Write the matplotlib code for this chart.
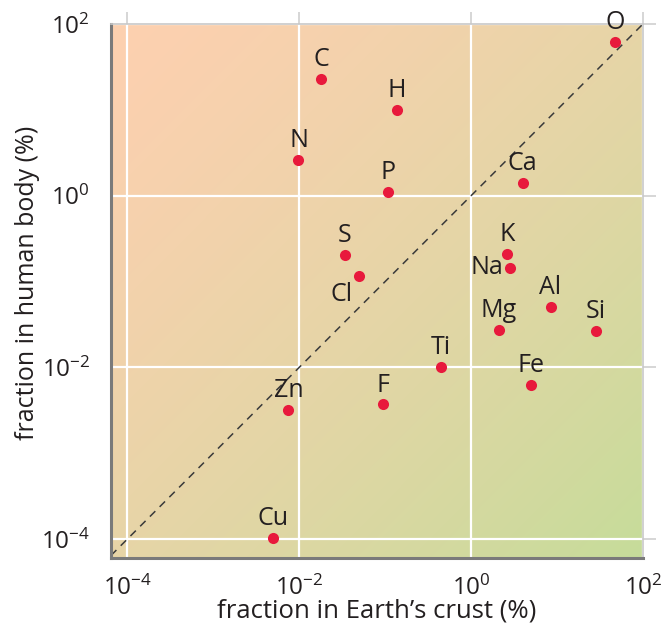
import numpy as np
import matplotlib.pyplot as plt
from matplotlib.colors import to_rgb

plt.rcParams['font.family'] = ['Open Sans', 'DejaVu Sans']
plt.rcParams['mathtext.fontset'] = 'custom'
plt.rcParams['mathtext.rm'] = 'Open Sans'
plt.rcParams['mathtext.it'] = 'Open Sans:italic'
plt.rcParams['mathtext.bf'] = 'Open Sans:bold'

# element, fraction in Earth's crust (%), fraction in human body (%)
elements = ["O", "C", "H", "N", "Ca", "P", "K", "S", "Na", "Cl",
            "Mg", "Al", "Si", "Ti", "Fe", "F", "Zn", "Cu"]
crust = [46.9, 0.018, 0.136, 0.0098, 3.97, 0.108, 2.6, 0.034, 2.85, 0.049,
         2.1, 8.4, 28.1, 0.447, 5.0, 0.094, 0.0075, 0.0050]
body = [61.6, 22.6, 9.9, 2.59, 1.42, 1.1, 0.207, 0.203, 0.144, 0.116,
        0.0273, 0.050, 0.0264, 0.0102, 0.0062, 0.0037, 0.0032, 0.000103]

ticks = [1e-4, 1e-2, 1e0, 1e2]
tick_labels = [r"$10^{-4}$", r"$10^{-2}$", r"$10^{0}$", r"$10^{2}$"]

# label placement: (dx, dy) in points, ha, va
label_pos = {"Na": ((-5, 0), "right", "center"),
             "Cl": ((-4, -4), "right", "top")}

fig = plt.figure(figsize=(6.63, 6.26), dpi=100)
ax = fig.add_axes([0.1674, 0.1086, 0.8024, 0.8531])

xlo, xhi = 10 ** -4.19, 10 ** 2.0
ylo, yhi = 10 ** -4.22, 10 ** 2.0

# diagonal gradient background
c1 = np.array(to_rgb("#fdd0b0"))
c2 = np.array(to_rgb("#c6dc9a"))
u, v = np.meshgrid(np.linspace(0, 1, 200), np.linspace(1, 0, 200))
t = ((u + (1 - v)) / 2) ** 1.3
img = c1[None, None, :] * (1 - t[..., None]) + c2[None, None, :] * t[..., None]
ax.imshow(img, extent=[0, 1, 0, 1], transform=ax.transAxes, aspect="auto",
          zorder=0, interpolation="bilinear")

ax.set_xscale("log")
ax.set_yscale("log")
ax.set_xlim(xlo, xhi)
ax.set_ylim(ylo, yhi)

ax.set_xticks(ticks)
ax.set_xticklabels(tick_labels)
ax.set_yticks(ticks)
ax.set_yticklabels(tick_labels)
ax.minorticks_off()
ax.grid(True, color="white", linewidth=1.6, zorder=1)
ax.set_axisbelow(True)

ax.tick_params(axis="both", which="major", labelsize=17.5, colors="#cfcfcf",
               labelcolor="#231f20", length=9, width=1.2, direction="out",
               top=True, right=True, bottom=False, left=False)
ax.tick_params(axis="x", pad=4)
ax.tick_params(axis="y", pad=6)

for side in ["left", "bottom"]:
    ax.spines[side].set_color("#7a7a7a")
    ax.spines[side].set_linewidth(2.2)
for side in ["top", "right"]:
    ax.spines[side].set_color("#c8c8c8")
    ax.spines[side].set_linewidth(1.2)

ax.plot([xlo, xhi], [xlo, xhi], color="#3a3a3a", linewidth=1.1,
        dashes=(5, 4), zorder=2)

ax.plot(crust, body, "o", color="#e8193c", markersize=8,
        markeredgewidth=0, zorder=3)

for name, x, y in zip(elements, crust, body):
    off, ha, va = label_pos.get(name, ((0, 5), "center", "bottom"))
    ax.annotate(name, (x, y), xytext=off, textcoords="offset points",
                ha=ha, va=va, fontsize=18, color="#231f20", zorder=4)

ax.set_xlabel("fraction in Earth\u2019s crust (%)", fontsize=18.5,
              color="#231f20")
ax.xaxis.set_label_coords(0.5, -0.075)
ax.set_ylabel("fraction in human body (%)", fontsize=18,
              color="#231f20")
ax.yaxis.set_label_coords(-0.133, 0.515)

fig.savefig("out.png", dpi=100)
